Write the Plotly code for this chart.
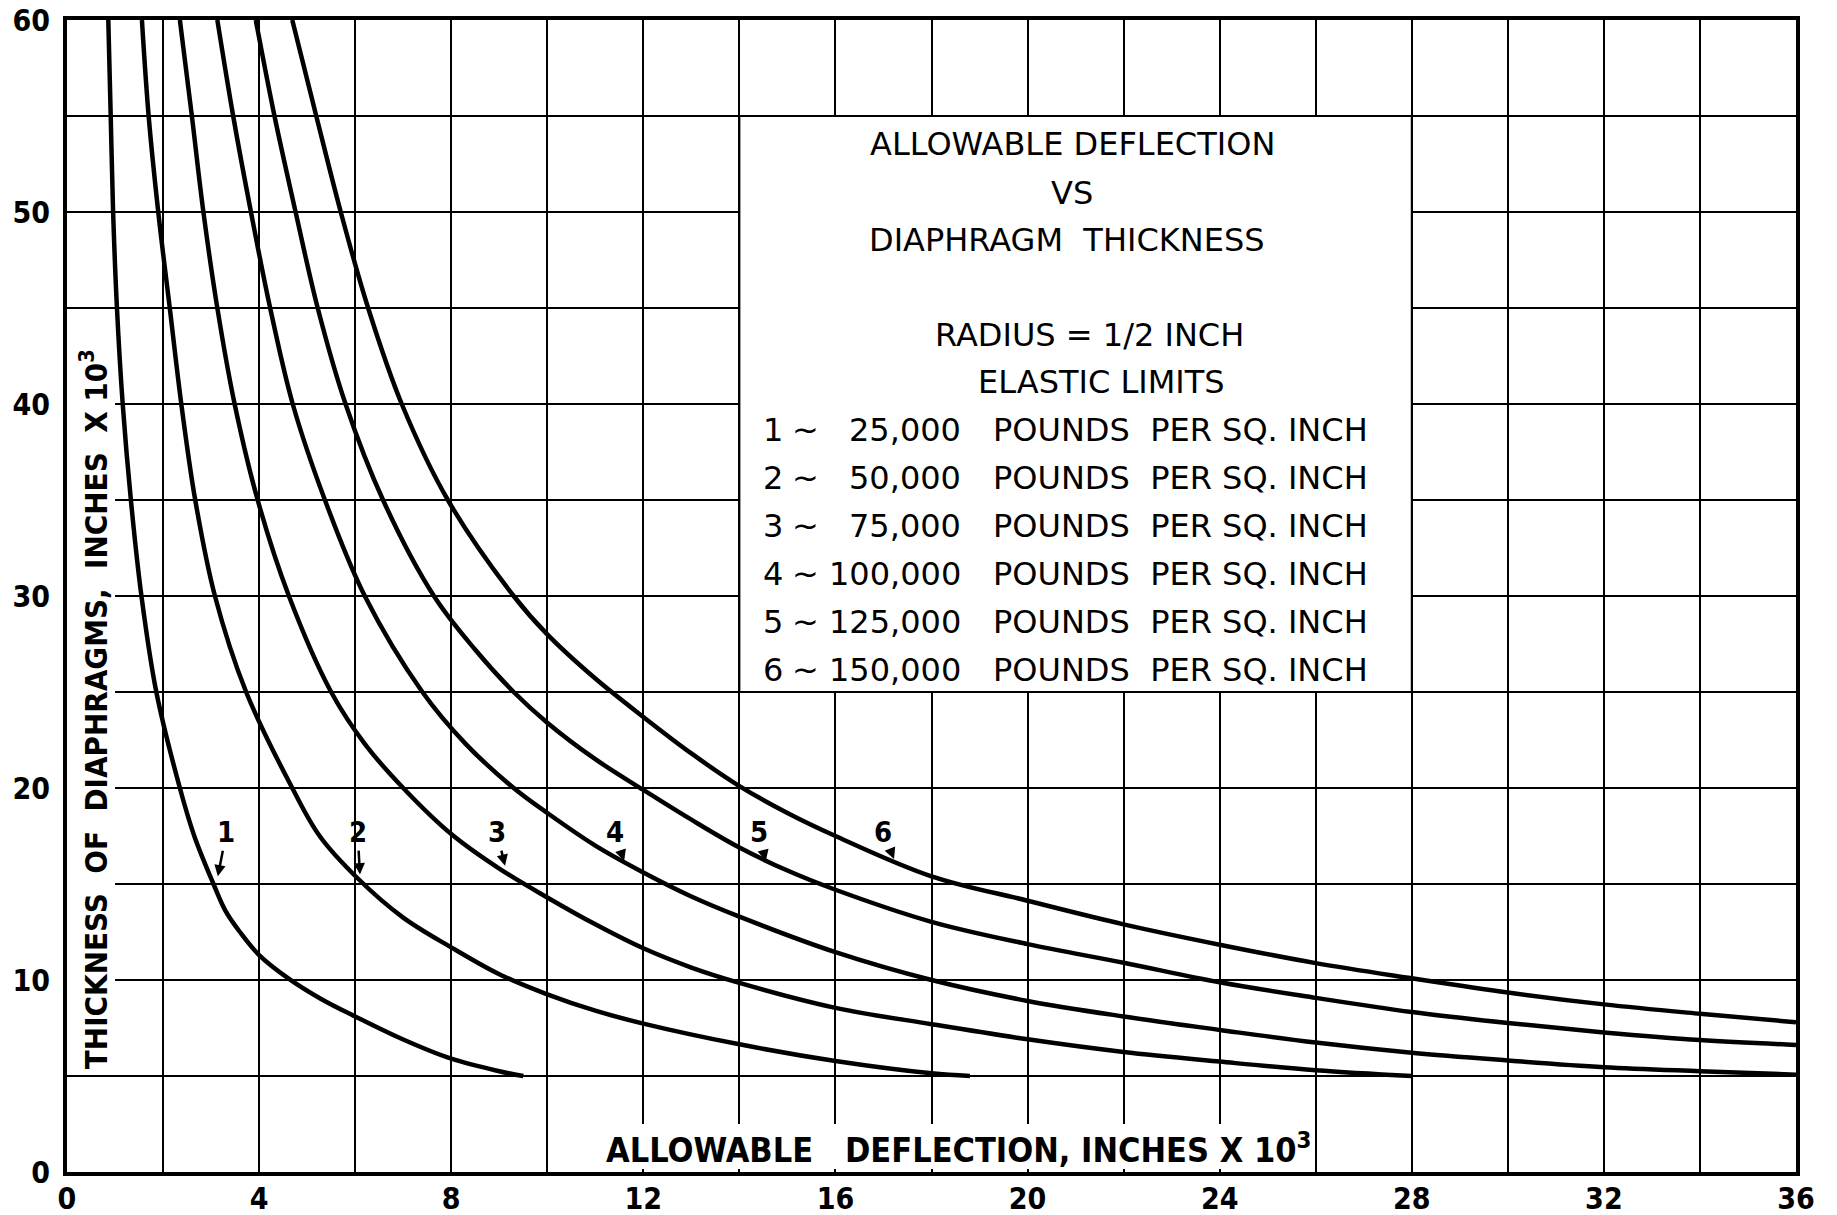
import plotly.graph_objects as go

# ---- data: allowable deflection (in x 10^3) vs diaphragm thickness (in x 10^3)
curve_ids = ["1", "2", "3", "4", "5", "6"]
elastic_limits_psi = [25000, 50000, 75000, 100000, 125000, 150000]

defl_1 = [0.86, 0.91, 0.96, 1.04, 1.16, 1.33, 1.55, 1.86, 2.35, 2.65, 3.05, 3.3, 3.6, 4.0, 4.6, 5.3, 6.0, 7.0, 8.0, 9.0, 9.5]
thick_1 = [60, 55, 50, 45, 40, 35, 30, 25, 20, 17.5, 15, 13.6, 12.5, 11.3, 10.1, 9.0, 8.1, 6.9, 5.9, 5.25, 5.0]

defl_2 = [1.56, 1.70, 1.90, 2.14, 2.38, 2.67, 3.08, 3.73, 4.69, 5.26, 6.05, 7.0, 8.0, 9.0, 10, 11, 12, 14, 16, 18, 18.8]
thick_2 = [60, 55, 50, 45, 40, 35, 30, 25, 20, 17.5, 15.3, 13.25, 11.7, 10.3, 9.25, 8.4, 7.73, 6.65, 5.78, 5.14, 5.0]

defl_3 = [2.35, 2.60, 2.84, 3.13, 3.49, 3.97, 4.62, 5.5, 6.2, 7.0, 8.0, 9.0, 10, 11, 12, 13, 14, 16, 18, 20, 22, 24, 26, 28]
thick_3 = [60, 55, 50, 45, 40, 35, 30, 25, 22.3, 20.0, 17.6, 15.8, 14.3, 12.9, 11.65, 10.65, 9.85, 8.55, 7.7, 6.91, 6.25, 5.75, 5.3, 5.0]

defl_4 = [3.13, 3.46, 3.83, 4.23, 4.70, 5.37, 6.2, 7.4, 8.3, 9.3, 10, 11, 12, 13, 14, 16, 18, 20, 22, 24, 26, 28, 30, 32, 34, 36]
thick_4 = [60, 55, 50, 45, 40, 35, 30, 25, 22.3, 20.0, 18.7, 17.0, 15.6, 14.35, 13.3, 11.45, 10.0, 8.91, 8.1, 7.4, 6.74, 6.21, 5.81, 5.46, 5.25, 5.07]

defl_5 = [3.93, 4.32, 4.76, 5.22, 5.80, 6.58, 7.64, 8.5, 9.3, 10, 11, 12, 13, 14, 15, 16, 18, 20, 22, 24, 26, 28, 30, 32, 34, 36]
thick_5 = [60, 55, 50, 45, 40, 35, 30, 27.2, 25.0, 23.4, 21.5, 19.9, 18.35, 16.9, 15.7, 14.7, 13.03, 11.87, 10.9, 9.88, 9.07, 8.33, 7.76, 7.27, 6.87, 6.62]

defl_6 = [4.69, 5.19, 5.70, 6.27, 6.97, 7.93, 9.3, 10, 11, 12, 13, 14, 15, 16, 18, 20, 22, 24, 26, 28, 30, 32, 34, 36]
thick_6 = [60, 55, 50, 45, 40, 35, 30, 28.0, 25.7, 23.7, 21.8, 20.1, 18.7, 17.5, 15.4, 14.13, 12.9, 11.84, 10.88, 10.09, 9.35, 8.73, 8.24, 7.8]

curves_x = [defl_1, defl_2, defl_3, defl_4, defl_5, defl_6]
curves_y = [thick_1, thick_2, thick_3, thick_4, thick_5, thick_6]

# curve number callouts: where the number sits and where its leader points
label_x = [3.32, 6.05, 8.95, 11.4, 14.4, 17.0]
label_y = [17.7, 17.7, 17.7, 17.7, 17.7, 17.7]
tip_x = [3.14, 6.1, 9.12, 11.6, 14.55, 17.22]
tip_y = [15.4, 15.5, 15.95, 16.2, 16.2, 16.3]

x_tick_step = 4
y_tick_step = 10

# ---- styling
INK = "black"
COND = "DejaVu Sans Condensed, DejaVu Sans, sans-serif"
PLAIN = "DejaVu Sans, sans-serif"
NB = "\u00a0"

fig = go.Figure()

for cid, xs, ys in zip(curve_ids, curves_x, curves_y):
    fig.add_trace(go.Scatter(
        x=xs, y=ys, mode="lines", name=cid,
        line=dict(color=INK, width=4.5, shape="spline", smoothing=1.0),
        hoverinfo="skip", showlegend=False,
    ))

shapes = [
    # white panel holding the chart description
    dict(type="rect", xref="x", yref="y", x0=14, x1=28, y0=25, y1=55,
         fillcolor="white", line=dict(color=INK, width=2), layer="between"),
    # clear the grid behind the axis captions
    dict(type="rect", xref="x", yref="y", x0=0, x1=1.0, y0=5.4, y1=43.3,
         fillcolor="white", line=dict(width=0), layer="between"),
    dict(type="rect", xref="x", yref="y", x0=11.0, x1=25.95, y0=0.15, y1=2.5,
         fillcolor="white", line=dict(width=0), layer="between"),
]

ann = []
panel_font = dict(family=PLAIN, size=32, color=INK)
panel_title = [("ALLOWABLE DEFLECTION", 20.94, 53.53),
               ("VS", 20.93, 50.97),
               (f"DIAPHRAGM{NB}{NB}THICKNESS", 20.83, 48.52),
               ("RADIUS = 1/2 INCH", 21.3, 43.57),
               ("ELASTIC LIMITS", 21.53, 41.13)]
for txt, xx, yy in panel_title:
    ann.append(dict(x=xx, y=yy, xref="x", yref="y", text=txt, showarrow=False,
                    xanchor="center", yanchor="middle", font=panel_font))

for i, (cid, psi) in enumerate(zip(curve_ids, elastic_limits_psi)):
    yy = 38.63 - 2.495 * i
    ann.append(dict(x=14.7, y=yy, xref="x", yref="y", text=cid, showarrow=False,
                    xanchor="center", yanchor="middle", font=panel_font))
    ann.append(dict(x=15.38, y=yy, xref="x", yref="y", text="~", showarrow=False,
                    xanchor="center", yanchor="middle", font=panel_font))
    ann.append(dict(x=18.66, y=yy, xref="x", yref="y", text=f"{psi:,}", showarrow=False,
                    xanchor="right", yanchor="middle", font=panel_font))
    ann.append(dict(x=19.24, y=yy, xref="x", yref="y",
                    text=f"POUNDS{NB}{NB}PER{NB}SQ.{NB}INCH", showarrow=False,
                    xanchor="left", yanchor="middle", font=panel_font))

# curve number callouts
for cid, lx, ly, tx, ty in zip(curve_ids, label_x, label_y, tip_x, tip_y):
    ann.append(dict(x=tx, y=ty, xref="x", yref="y", ax=lx, ay=ly, axref="x", ayref="y",
                    text=cid, showarrow=True, arrowhead=2, arrowsize=0.9, arrowwidth=2.5,
                    arrowcolor=INK, standoff=0, startstandoff=0,
                    font=dict(family=COND, size=29, color=INK, weight="bold")))

# axis captions, lettered inside the frame
ann.append(dict(x=18.57, y=1.25, xref="x", yref="y",
                text="ALLOWABLE" + NB * 3 + "DEFLECTION, INCHES X 10<sup>3</sup>",
                showarrow=False, xanchor="center", yanchor="middle",
                font=dict(family=COND, size=34, color=INK, weight="bold")))
ann.append(dict(x=0.56, y=24.1, xref="x", yref="y", textangle=-90,
                text=f"THICKNESS{NB}{NB}OF{NB}{NB}DIAPHRAGMS,{NB}{NB}INCHES{NB}{NB}X{NB}10<sup>3</sup>",
                showarrow=False, xanchor="center", yanchor="middle",
                font=dict(family=COND, size=31, color=INK, weight="bold")))

axis_common = dict(
    showline=True, linecolor=INK, linewidth=4, mirror=True,
    showgrid=True, gridcolor=INK, gridwidth=2,
    zeroline=False, ticks="", fixedrange=True, automargin=False,
)

fig.update_layout(
    width=1837, height=1215,
    margin=dict(l=67, r=41, t=20, b=43, autoexpand=False),
    paper_bgcolor="white", plot_bgcolor="white",
    showlegend=False,
    shapes=shapes, annotations=ann,
    xaxis=dict(range=[0, 36], tick0=0, dtick=x_tick_step,
               minor=dict(dtick=x_tick_step / 2, showgrid=True, gridcolor=INK, gridwidth=2),
               tickfont=dict(family=COND, size=30, color=INK, weight="bold"),
               ticklabelstandoff=-3, **axis_common),
    yaxis=dict(range=[0, 60], tick0=0, dtick=y_tick_step,
               minor=dict(dtick=y_tick_step / 2, showgrid=True, gridcolor=INK, gridwidth=2),
               tickfont=dict(family=COND, size=30, color=INK, weight="bold"),
               ticklabelstandoff=7, **axis_common),
)

fig.write_html("out.html")
